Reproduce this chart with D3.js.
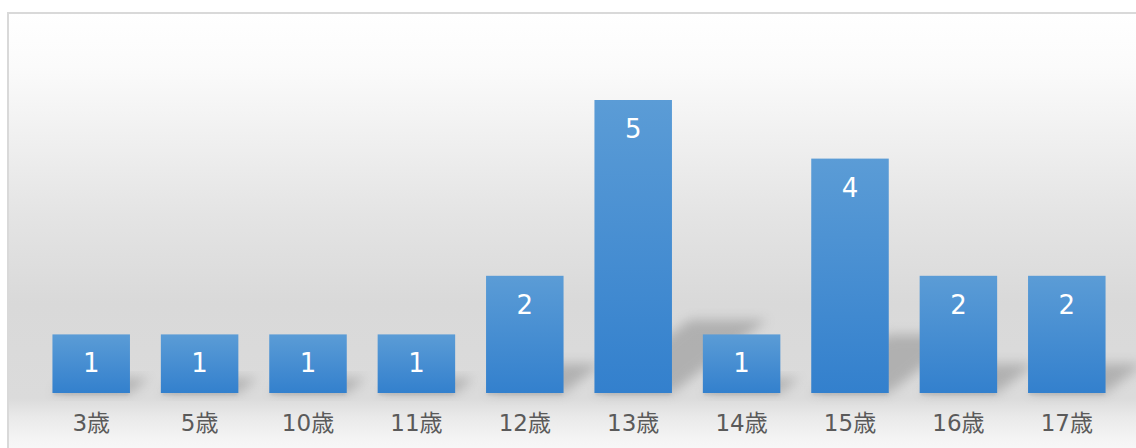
<!DOCTYPE html>
<html>
<head>
<meta charset="utf-8">
<script src="https://cdn.jsdelivr.net/npm/d3@7"></script>
<style>
  html, body { margin: 0; padding: 0; background: #ffffff; }
  svg { display: block; }
</style>
</head>
<body>
<svg id="chart" width="1136" height="448"></svg>
<script>
// Age groups and head counts
const categories = ["3歳", "5歳", "10歳", "11歳", "12歳", "13歳", "14歳", "15歳", "16歳", "17歳"];
const counts = [1, 1, 1, 1, 2, 5, 1, 4, 2, 2];

const W = 1136, H = 448;
const svg = d3.select("#chart");
const defs = svg.append("defs");

// Plot-area background: white at the top, grey band behind the bars, lighter floor
const bg = defs.append("linearGradient")
  .attr("id", "bgGrad").attr("x1", 0).attr("y1", 0).attr("x2", 0).attr("y2", 1);
[[0, "#ffffff"], [0.12, "#fbfbfb"], [0.45, "#e4e4e4"], [0.65, "#d9d9d9"],
 [0.86, "#dbdbdb"], [0.9, "#e9e9e9"], [0.95, "#f4f4f4"], [1, "#fbfbfb"]]
  .forEach(([o, c]) => bg.append("stop").attr("offset", o).attr("stop-color", c));

// Bar fill: lighter blue at the top, deeper blue at the base
const barGrad = defs.append("linearGradient")
  .attr("id", "barGrad").attr("x1", 0).attr("y1", 0).attr("x2", 0).attr("y2", 1);
barGrad.append("stop").attr("offset", 0).attr("stop-color", "#5b9cd6");
barGrad.append("stop").attr("offset", 1).attr("stop-color", "#3380cd");

const blur = defs.append("filter").attr("id", "shadowBlur")
  .attr("x", "-50%").attr("y", "-50%").attr("width", "200%").attr("height", "200%");
blur.append("feGaussianBlur").attr("stdDeviation", 6);

const blurSmall = defs.append("filter").attr("id", "baseBlur")
  .attr("x", "-20%").attr("y", "-200%").attr("width", "140%").attr("height", "500%");
blurSmall.append("feGaussianBlur").attr("stdDeviation", 1.5);

// Frame
svg.append("rect")
  .attr("x", 8).attr("y", 13).attr("width", W).attr("height", H)
  .attr("fill", "url(#bgGrad)")
  .attr("stroke", "#d9d9d9").attr("stroke-width", 2);

// Scales
const x = d3.scaleBand()
  .domain(categories)
  .range([37, 1121])
  .paddingInner(0.285)
  .paddingOuter(0.1425);

const y = d3.scaleLinear()
  .domain([0, 5])
  .range([393, 100]);

const data = categories.map((c, i) => ({ cat: c, value: counts[i] }));

// Perspective shadows cast onto the back wall
const shadowRatio = 0.25, skew = 1.3;
svg.append("g").selectAll("path.shadow")
  .data(data)
  .join("path")
  .attr("class", "shadow")
  .attr("d", d => {
    const x0 = x(d.cat), x1 = x0 + x.bandwidth();
    const base = y(0);
    const sh = (y(0) - y(d.value)) * shadowRatio;
    const dx = sh * skew;
    const p = d3.path();
    p.moveTo(x0, base);
    p.lineTo(x1, base);
    p.lineTo(x1 + dx, base - sh);
    p.lineTo(x0 + dx, base - sh);
    p.closePath();
    return p.toString();
  })
  .attr("fill", "#777777")
  .attr("opacity", 0.42)
  .attr("filter", "url(#shadowBlur)");

// Soft contact shadow under each bar
svg.append("g").selectAll("rect.base")
  .data(data)
  .join("rect")
  .attr("class", "base")
  .attr("x", d => x(d.cat) + 1)
  .attr("y", y(0) - 1)
  .attr("width", x.bandwidth() - 2)
  .attr("height", 3)
  .attr("fill", "#9a9a9a")
  .attr("opacity", 0.4)
  .attr("filter", "url(#baseBlur)");

// Bars
svg.append("g").selectAll("rect.bar")
  .data(data)
  .join("rect")
  .attr("class", "bar")
  .attr("x", d => x(d.cat))
  .attr("y", d => y(d.value))
  .attr("width", x.bandwidth())
  .attr("height", d => y(0) - y(d.value))
  .attr("fill", "url(#barGrad)");

// Value labels inside the bars
svg.append("g").selectAll("text.val")
  .data(data)
  .join("text")
  .attr("class", "val")
  .attr("x", d => x(d.cat) + x.bandwidth() / 2)
  .attr("y", d => y(d.value) + 29)
  .attr("text-anchor", "middle")
  .attr("dominant-baseline", "central")
  .attr("font-family", "'DejaVu Sans', 'Noto Sans CJK JP', sans-serif")
  .attr("font-size", 26)
  .attr("fill", "#ffffff")
  .text(d => d.value);

// Category axis (labels only)
const xAxis = d3.axisBottom(x).tickSize(0).tickPadding(0);
const ax = svg.append("g")
  .attr("transform", `translate(0, ${y(0)})`)
  .call(xAxis);
ax.select(".domain").remove();
ax.selectAll("text")
  .attr("y", 30)
  .attr("dy", null)
  .attr("dominant-baseline", "central")
  .attr("font-family", "'DejaVu Sans', 'Noto Sans CJK JP', sans-serif")
  .attr("font-size", 23)
  .attr("fill", "#5a5a5a");
</script>
</body>
</html>
